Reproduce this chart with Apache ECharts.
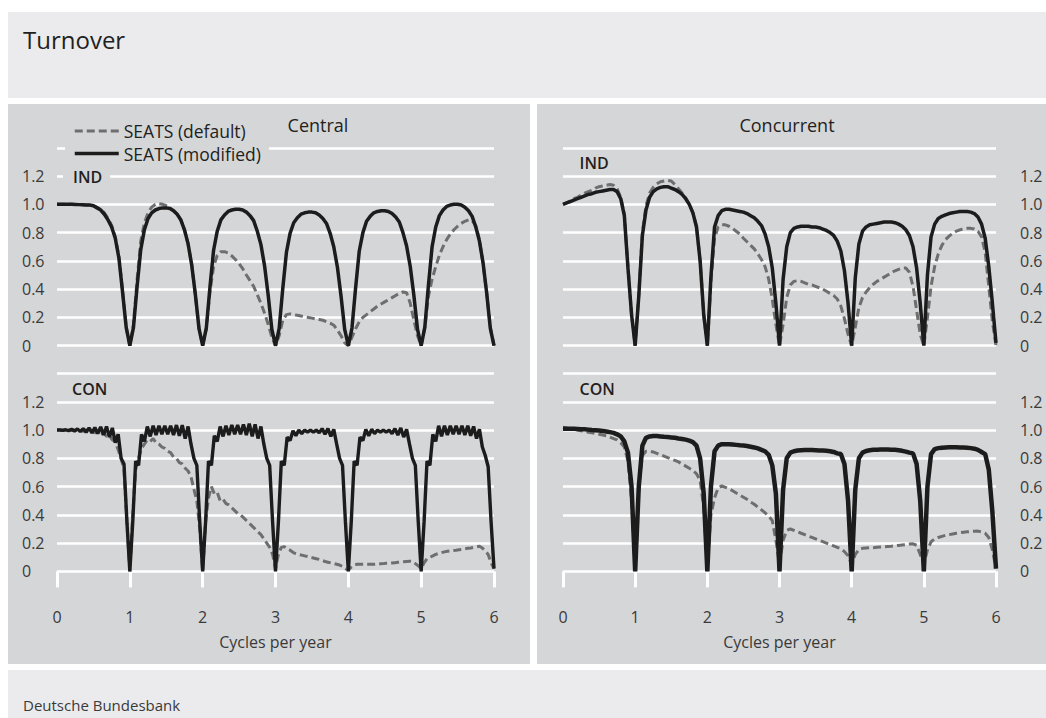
<!DOCTYPE html>
<html>
<head>
<meta charset="utf-8">
<script src="https://cdn.jsdelivr.net/npm/echarts@6/dist/echarts.min.js"></script>
<style>
html,body{margin:0;padding:0;background:#ffffff;}
#chart{width:1046px;height:718px;}
</style>
</head>
<body>
<div id="chart"></div>
<script>
// ---------- data ----------
const chartTitle = 'Turnover';
const panelTitles = ['Central', 'Concurrent'];
const rowLabels = ['IND', 'CON'];
const seriesNames = ['SEATS (default)', 'SEATS (modified)'];
const xAxisName = 'Cycles per year';
const sourceText = 'Deutsche Bundesbank';
const yTicks = [0, 0.2, 0.4, 0.6, 0.8, 1.0, 1.2];

const freq = [
 0,0.05,0.1,0.15,0.2,0.25,0.3,0.35,0.4,0.45,0.5,0.55,0.6,0.65,0.7,0.75,0.8,0.85,0.9,0.95,
 1,1.05,1.1,1.15,1.2,1.25,1.3,1.35,1.4,1.45,1.5,1.55,1.6,1.65,1.7,1.75,1.8,1.85,1.9,1.95,
 2,2.05,2.1,2.15,2.2,2.25,2.3,2.35,2.4,2.45,2.5,2.55,2.6,2.65,2.7,2.75,2.8,2.85,2.9,2.95,
 3,3.05,3.1,3.15,3.2,3.25,3.3,3.35,3.4,3.45,3.5,3.55,3.6,3.65,3.7,3.75,3.8,3.85,3.9,3.95,
 4,4.05,4.1,4.15,4.2,4.25,4.3,4.35,4.4,4.45,4.5,4.55,4.6,4.65,4.7,4.75,4.8,4.85,4.9,4.95,
 5,5.05,5.1,5.15,5.2,5.25,5.3,5.35,5.4,5.45,5.5,5.55,5.6,5.65,5.7,5.75,5.8,5.85,5.9,5.95,
 6];

const freqFine = [
 0,0.04,0.08,0.12,0.16,0.2,0.24,0.28,0.32,0.36,0.4,0.44,0.48,0.52,0.56,0.6,0.64,0.68,0.72,0.76,0.8,0.84,0.88,0.92,0.96,
 1,1.04,1.08,1.12,1.16,1.2,1.24,1.28,1.32,1.36,1.4,1.44,1.48,1.52,1.56,1.6,1.64,1.68,1.72,1.76,1.8,1.84,1.88,1.92,1.96,
 2,2.04,2.08,2.12,2.16,2.2,2.24,2.28,2.32,2.36,2.4,2.44,2.48,2.52,2.56,2.6,2.64,2.68,2.72,2.76,2.8,2.84,2.88,2.92,2.96,
 3,3.04,3.08,3.12,3.16,3.2,3.24,3.28,3.32,3.36,3.4,3.44,3.48,3.52,3.56,3.6,3.64,3.68,3.72,3.76,3.8,3.84,3.88,3.92,3.96,
 4,4.04,4.08,4.12,4.16,4.2,4.24,4.28,4.32,4.36,4.4,4.44,4.48,4.52,4.56,4.6,4.64,4.68,4.72,4.76,4.8,4.84,4.88,4.92,4.96,
 5,5.04,5.08,5.12,5.16,5.2,5.24,5.28,5.32,5.36,5.4,5.44,5.48,5.52,5.56,5.6,5.64,5.68,5.72,5.76,5.8,5.84,5.88,5.92,5.96,
 6];

// IND, central (top left)
const indDefaultCentral = [
 1.0,1.0,1.0,1.0,1.0,0.999,0.998,0.997,0.996,0.995,0.99,0.978,0.965,0.94,0.9,0.85,0.77,0.63,0.39,0.13,
 0,0.15,0.47,0.74,0.87,0.94,0.98,1.0,1.005,1.0,0.99,0.975,0.955,0.93,0.89,0.82,0.72,0.57,0.36,0.12,
 0,0.12,0.38,0.56,0.64,0.665,0.665,0.655,0.635,0.61,0.58,0.545,0.5,0.46,0.42,0.36,0.3,0.23,0.15,0.06,
 0,0.07,0.18,0.22,0.225,0.22,0.215,0.21,0.205,0.2,0.195,0.19,0.185,0.18,0.17,0.16,0.145,0.11,0.07,0.02,
 0,0.06,0.12,0.17,0.2,0.22,0.24,0.26,0.28,0.295,0.31,0.325,0.34,0.355,0.37,0.38,0.375,0.3,0.18,0.07,
 0,0.13,0.35,0.47,0.56,0.64,0.7,0.75,0.79,0.82,0.845,0.865,0.88,0.89,0.885,0.85,0.75,0.58,0.37,0.13,
 0];
const indModifiedCentral = [
 1.0,1.0,1.0,1.0,1.0,0.999,0.998,0.997,0.996,0.995,0.99,0.975,0.96,0.93,0.89,0.84,0.76,0.62,0.38,0.13,
 0,0.13,0.42,0.68,0.82,0.9,0.94,0.96,0.97,0.975,0.975,0.97,0.955,0.93,0.89,0.82,0.72,0.57,0.36,0.12,
 0,0.125,0.415,0.675,0.81,0.89,0.925,0.95,0.96,0.965,0.965,0.96,0.945,0.92,0.885,0.81,0.715,0.565,0.355,0.115,
 0,0.12,0.405,0.66,0.795,0.87,0.905,0.93,0.94,0.945,0.945,0.94,0.925,0.9,0.865,0.795,0.7,0.555,0.35,0.115,
 0,0.125,0.41,0.67,0.8,0.88,0.915,0.94,0.95,0.955,0.955,0.95,0.935,0.91,0.875,0.8,0.705,0.56,0.355,0.115,
 0,0.13,0.43,0.7,0.84,0.92,0.96,0.985,0.995,1.0,1.0,0.995,0.98,0.955,0.915,0.84,0.74,0.585,0.37,0.12,
 0];

// IND, concurrent (top right)
const indDefaultConcurrent = [
 1.0,1.01,1.025,1.04,1.05,1.065,1.08,1.09,1.1,1.115,1.125,1.13,1.135,1.14,1.135,1.11,1.05,0.93,0.56,0.22,
 0,0.36,0.8,0.99,1.08,1.12,1.145,1.16,1.165,1.17,1.165,1.14,1.11,1.08,1.045,1.0,0.94,0.84,0.6,0.22,
 0,0.45,0.76,0.84,0.855,0.855,0.845,0.83,0.81,0.79,0.76,0.735,0.71,0.685,0.65,0.61,0.56,0.47,0.33,0.15,
 0,0.15,0.34,0.43,0.455,0.46,0.455,0.445,0.435,0.43,0.42,0.41,0.4,0.385,0.37,0.355,0.33,0.28,0.19,0.08,
 0,0.13,0.27,0.34,0.38,0.41,0.435,0.455,0.47,0.485,0.5,0.515,0.53,0.54,0.55,0.55,0.52,0.42,0.25,0.08,
 0,0.2,0.42,0.56,0.65,0.71,0.75,0.775,0.795,0.81,0.82,0.825,0.83,0.83,0.825,0.81,0.77,0.66,0.42,0.17,
 0];
const indModifiedConcurrent = [
 1.0,1.01,1.02,1.03,1.04,1.05,1.06,1.07,1.075,1.085,1.09,1.095,1.1,1.105,1.105,1.09,1.04,0.92,0.55,0.22,
 0,0.35,0.78,0.96,1.05,1.09,1.11,1.12,1.125,1.125,1.115,1.105,1.09,1.07,1.04,1.0,0.94,0.84,0.6,0.22,
 0,0.49,0.84,0.92,0.955,0.965,0.965,0.96,0.955,0.95,0.945,0.935,0.92,0.905,0.88,0.85,0.79,0.7,0.55,0.3,
 0,0.47,0.7,0.8,0.83,0.84,0.845,0.845,0.845,0.84,0.84,0.835,0.825,0.815,0.8,0.78,0.74,0.67,0.53,0.3,
 0,0.48,0.72,0.81,0.84,0.855,0.86,0.865,0.87,0.875,0.875,0.875,0.87,0.86,0.845,0.82,0.78,0.7,0.55,0.3,
 0,0.5,0.77,0.86,0.9,0.915,0.925,0.935,0.94,0.945,0.95,0.95,0.95,0.945,0.935,0.91,0.86,0.76,0.56,0.3,
 0.02];

// CON, central (bottom left) - finer frequency grid
const conDefaultCentral = [
 1.0,1.0,1.0,1.0,1.0,0.998,1.0,0.995,1.0,0.99,1.0,0.985,0.995,0.98,0.99,0.97,0.98,0.955,0.96,0.93,0.92,0.86,0.8,0.72,0.35,
 0,0.4,0.72,0.8,0.87,0.9,0.93,0.92,0.94,0.91,0.9,0.88,0.87,0.85,0.84,0.81,0.8,0.77,0.76,0.73,0.71,0.67,0.58,0.5,0.3,
 0,0.35,0.52,0.6,0.55,0.56,0.5,0.51,0.48,0.47,0.45,0.43,0.41,0.4,0.38,0.36,0.34,0.32,0.3,0.28,0.26,0.23,0.2,0.17,0.12,
 0.02,0.12,0.17,0.175,0.16,0.15,0.135,0.125,0.12,0.115,0.11,0.105,0.1,0.095,0.09,0.085,0.078,0.07,0.065,0.06,0.055,0.05,0.045,0.035,0.02,
 0.01,0.03,0.045,0.05,0.05,0.05,0.05,0.05,0.05,0.05,0.052,0.054,0.055,0.057,0.058,0.06,0.062,0.064,0.066,0.068,0.07,0.072,0.07,0.055,0.04,
 0.02,0.06,0.09,0.1,0.11,0.12,0.127,0.133,0.138,0.142,0.145,0.148,0.15,0.153,0.156,0.16,0.163,0.166,0.17,0.174,0.178,0.165,0.145,0.12,0.06,
 0.02];
const conModifiedCentral = [
 1.0,1.0,0.998,1.002,0.996,1.005,0.993,1.008,0.99,1.01,0.985,1.015,0.98,1.018,0.975,1.022,0.965,1.025,0.95,1.015,0.91,0.97,0.8,0.76,0.35,
 0,0.35,0.78,0.75,0.97,0.92,1.025,0.955,1.03,0.965,1.03,0.97,1.03,0.97,1.03,0.965,1.035,0.96,1.035,0.94,1.025,0.9,0.8,0.75,0.35,
 0,0.35,0.78,0.75,0.96,0.92,1.025,0.955,1.03,0.965,1.035,0.97,1.035,0.97,1.04,0.965,1.045,0.955,1.04,0.94,1.025,0.9,0.8,0.75,0.35,
 0,0.35,0.78,0.75,0.95,0.925,0.995,0.96,1.0,0.975,1.0,0.985,1.0,0.985,1.0,0.98,1.01,0.97,1.01,0.955,1.005,0.9,0.8,0.75,0.35,
 0,0.35,0.78,0.75,0.95,0.925,1.005,0.96,1.005,0.975,1.0,0.985,1.0,0.985,1.0,0.975,1.01,0.965,1.015,0.95,1.005,0.9,0.8,0.75,0.35,
 0,0.35,0.78,0.75,0.97,0.92,1.03,0.955,1.03,0.965,1.03,0.97,1.03,0.97,1.03,0.965,1.03,0.96,1.025,0.94,1.005,0.88,0.82,0.74,0.35,
 0.02];

// CON, concurrent (bottom right)
const conDefaultConcurrent = [
 1.02,1.015,1.01,1.005,1.0,0.995,0.99,0.985,0.98,0.975,0.97,0.965,0.96,0.95,0.94,0.93,0.91,0.88,0.78,0.5,
 0.02,0.6,0.82,0.85,0.85,0.845,0.835,0.825,0.815,0.805,0.795,0.785,0.775,0.76,0.745,0.73,0.715,0.69,0.645,0.45,
 0.03,0.4,0.52,0.59,0.605,0.595,0.585,0.57,0.555,0.54,0.525,0.51,0.49,0.475,0.455,0.435,0.415,0.39,0.36,0.22,
 0.05,0.22,0.29,0.3,0.29,0.28,0.27,0.26,0.25,0.24,0.23,0.22,0.21,0.2,0.19,0.18,0.17,0.16,0.14,0.11,
 0.05,0.12,0.155,0.163,0.165,0.167,0.168,0.17,0.172,0.174,0.176,0.178,0.181,0.184,0.187,0.19,0.193,0.195,0.185,0.12,
 0.05,0.15,0.21,0.23,0.24,0.248,0.255,0.26,0.265,0.27,0.274,0.277,0.28,0.282,0.284,0.285,0.28,0.27,0.24,0.15,
 0.02];
const conModifiedConcurrent = [
 1.01,1.01,1.01,1.01,1.008,1.006,1.005,1.003,1.0,0.998,0.996,0.994,0.99,0.985,0.98,0.97,0.955,0.92,0.84,0.6,
 0,0.6,0.89,0.945,0.955,0.958,0.958,0.955,0.952,0.95,0.948,0.945,0.94,0.937,0.932,0.925,0.915,0.89,0.8,0.55,
 0,0.6,0.85,0.89,0.9,0.9,0.9,0.898,0.895,0.892,0.89,0.887,0.882,0.877,0.87,0.86,0.85,0.825,0.75,0.55,
 0,0.58,0.8,0.84,0.85,0.855,0.857,0.858,0.858,0.858,0.857,0.856,0.855,0.853,0.85,0.845,0.835,0.83,0.76,0.5,
 0,0.58,0.8,0.84,0.852,0.857,0.86,0.861,0.862,0.862,0.862,0.861,0.86,0.857,0.853,0.847,0.84,0.835,0.76,0.5,
 0,0.6,0.83,0.865,0.872,0.875,0.877,0.878,0.878,0.878,0.877,0.876,0.875,0.872,0.868,0.86,0.845,0.83,0.72,0.42,
 0.02];

// ---------- styling / layout ----------
const FONT = '"Open Sans", "Noto Sans", sans-serif';
const PANEL = '#d5d6d8';
const BOX = '#ebebed';
const TEXT = '#231f20';
const LABEL = '#3a3a3a';
const SOLID = '#1c1c1c';
const DASH = '#6e6e6e';

const gridsPos = [
  {left: 57,  top: 147.8, width: 437, height: 197.9},
  {left: 563, top: 147.8, width: 433, height: 197.9},
  {left: 57,  top: 373.5, width: 437, height: 197.9},
  {left: 563, top: 373.5, width: 433, height: 197.9}
];

function pairs(xs, ys) { return xs.map((x, i) => [x, ys[i]]); }

const yFmt = v => (v > 1.3 ? '' : (v === 0 ? '0' : v.toFixed(1)));

const xAxes = gridsPos.map((g, i) => {
  const bottom = i >= 2;
  return {
    type: 'value', gridIndex: i, min: 0, max: 6, interval: 1,
    splitLine: {show: false},
    axisLine: {show: false},
    offset: bottom ? 16 : 0,
    axisTick: {show: bottom, length: 16, lineStyle: {color: '#ffffff', width: 3}},
    axisLabel: {show: bottom, fontSize: 16, color: LABEL, fontFamily: FONT, margin: 22},
    name: bottom ? xAxisName : '',
    nameLocation: 'middle', nameGap: 47,
    nameTextStyle: {fontSize: 16, color: LABEL, fontFamily: FONT}
  };
});

const yAxes = gridsPos.map((g, i) => {
  const right = (i % 2) === 1;
  return {
    type: 'value', gridIndex: i, min: 0, max: 1.4, interval: 0.2,
    position: right ? 'right' : 'left',
    axisLine: {show: false}, axisTick: {show: false},
    splitLine: {show: true, lineStyle: {color: '#ffffff', width: 2.5}},
    axisLabel: {
      formatter: yFmt, fontSize: 16, color: LABEL, fontFamily: FONT,
      align: 'left', margin: right ? 24 : 35
    }
  };
});

function dashSeries(idx, xs, ys) {
  return {
    name: seriesNames[0], type: 'line', xAxisIndex: idx, yAxisIndex: idx,
    data: pairs(xs, ys), showSymbol: false, symbol: 'none', z: 2,
    lineStyle: {color: DASH, width: 3, type: [8, 4]}, itemStyle: {color: DASH}
  };
}
function solidSeries(idx, xs, ys, w) {
  return {
    name: seriesNames[1], type: 'line', xAxisIndex: idx, yAxisIndex: idx,
    data: pairs(xs, ys), showSymbol: false, symbol: 'none', z: 3,
    lineStyle: {color: SOLID, width: w, type: 'solid'}, itemStyle: {color: SOLID}
  };
}

const series = [
  dashSeries(0, freq, indDefaultCentral),
  dashSeries(1, freq, indDefaultConcurrent),
  dashSeries(2, freqFine, conDefaultCentral),
  dashSeries(3, freq, conDefaultConcurrent),
  solidSeries(0, freq, indModifiedCentral, 3.5),
  solidSeries(1, freq, indModifiedConcurrent, 3.5),
  solidSeries(2, freqFine, conModifiedCentral, 3.4),
  solidSeries(3, freq, conModifiedConcurrent, 4.5)
];

function txt(text, x, y, size, opts) {
  return {
    type: 'text', z: 100,
    style: Object.assign({
      text: text, x: x, y: y, fill: TEXT,
      font: size + 'px ' + FONT,
      align: 'left', verticalAlign: 'middle'
    }, opts && opts.style || {})
  };
}
function rowLabel(text, bx, by, bw, bh, tx, ty) {
  return {
    type: 'group', z: 100,
    children: [
      {type: 'rect', z: 100, shape: {x: bx, y: by, width: bw, height: bh}, style: {fill: PANEL}},
      {type: 'text', z: 101, style: {text: text, x: tx, y: ty, fill: TEXT,
        font: '600 16px ' + FONT, align: 'left', verticalAlign: 'middle'}}
    ]
  };
}

const graphics = [
  {type: 'rect', z: -100, shape: {x: 8, y: 12, width: 1038, height: 86}, style: {fill: BOX}},
  {type: 'rect', z: -100, shape: {x: 8, y: 104, width: 522, height: 560}, style: {fill: PANEL}},
  {type: 'rect', z: -100, shape: {x: 537, y: 104, width: 509, height: 560}, style: {fill: PANEL}},
  {type: 'rect', z: -100, shape: {x: 8, y: 670, width: 1038, height: 48}, style: {fill: BOX}},
  txt(chartTitle, 23, 39, 24),
  txt(panelTitles[0], 318, 125, 18, {style: {align: 'center'}}),
  txt(panelTitles[1], 787, 125, 18, {style: {align: 'center'}}),
  txt(sourceText, 23, 705, 15, {style: {fill: LABEL}}),
  rowLabel(rowLabels[0], 63, 167, 47, 20, 73, 177),
  rowLabel(rowLabels[0], 570, 150.5, 47, 24, 579.5, 163),
  rowLabel(rowLabels[1], 65, 376, 52, 24, 72, 389),
  rowLabel(rowLabels[1], 570, 376, 53, 24, 579.5, 389)
];

const chart = echarts.init(document.getElementById('chart'), null, {renderer: 'svg'});
chart.setOption({
  animation: false,
  backgroundColor: '#ffffff',
  textStyle: {fontFamily: FONT},
  grid: gridsPos.map(g => Object.assign({containLabel: false}, g)),
  xAxis: xAxes,
  yAxis: yAxes,
  legend: {
    data: seriesNames, orient: 'vertical', left: 65, top: 120,
    itemWidth: 44, itemHeight: 14, itemGap: 4.6,
    padding: [2, 8, 2, 8], backgroundColor: PANEL,
    selectedMode: false,
    itemStyle: {opacity: 0},
    lineStyle: {width: 'inherit'},
    textStyle: {fontSize: 17.5, color: TEXT, fontFamily: FONT, lineHeight: 18}
  },
  graphic: graphics,
  series: series
});
</script>
</body>
</html>
